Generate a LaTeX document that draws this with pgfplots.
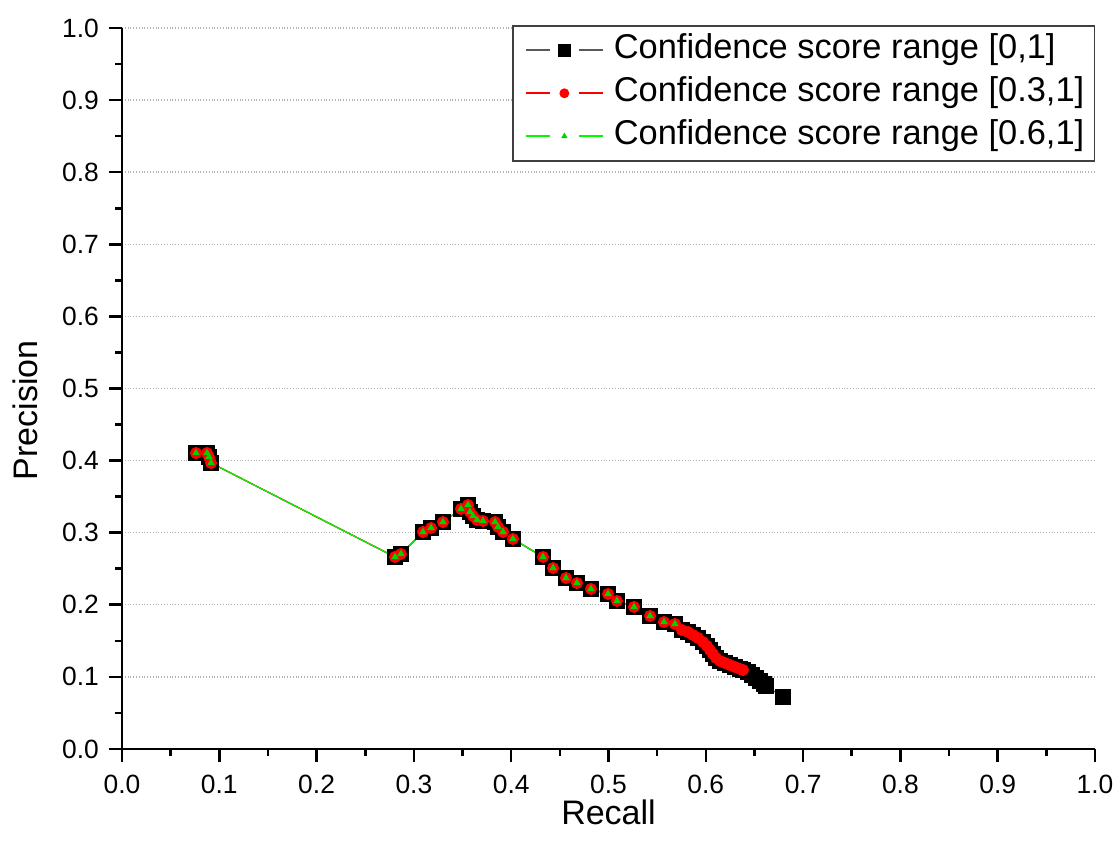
\documentclass[border=0pt]{standalone}
\usepackage{fontspec}
\setmainfont{Liberation Sans}
\usepackage{pgfplots}
\pgfplotsset{compat=1.18}

\definecolor{pgreen}{RGB}{0,250,0}
\definecolor{pred}{RGB}{255,0,0}

\begin{document}
\begin{tikzpicture}
\begin{axis}[
  name=ax,
  scale only axis,
  width=486.5pt, height=360.5pt,
  xmin=0, xmax=1, ymin=0, ymax=1,
  axis x line*=bottom, axis y line*=left,
  axis line style={line width=1.3pt, black},
  xtick={0,0.1,...,1.0}, ytick={0,0.1,...,1.0},
  minor tick num=1,
  tick align=outside,
  major tick length=6.5pt, minor tick length=3.5pt,
  every tick/.style={line width=1.3pt, black},
  /pgf/number format/assume math mode=true,
  /pgf/number format/.cd, fixed, fixed zerofill, precision=1, /pgfplots/.cd,
  tick label style={font=\fontsize{13.2}{15}\selectfont},
  xticklabel style={yshift=-3pt},
  yticklabel style={xshift=-1.5pt},
  ymajorgrids,
  grid style={densely dotted, black!30, line width=0.7pt},
  xlabel={Recall}, ylabel={Precision},
  label style={font=\fontsize{17}{20}\selectfont},
  xlabel style={at={(axis description cs:0.5,0)}, anchor=center, yshift=-31.5pt},
  ylabel style={at={(axis description cs:0,0.47)}, anchor=center, yshift=48.5pt},
  legend cell align=left,
  legend style={at={(1,1.004)}, anchor=north east,
    draw=black!75, line width=0.7pt,
    font=\fontsize{17.2}{20}\selectfont,
    nodes={text height=12.5pt, text depth=4pt, inner sep=2pt},
    row sep=1pt, inner xsep=3pt, inner ysep=2pt},
  legend image code/.code={
    \path[draw=none, fill=none] (-3.5pt,0pt) -- (42pt,0pt);
    \draw[#1, mark=none, line width=0.9pt] (0pt,0pt) -- (12pt,0pt);
    \draw[#1, mark=none, line width=0.9pt] (26.5pt,0pt) -- (38.5pt,0pt);
    \draw[#1, only marks, every mark/.append style={scale=0.8}]
      plot coordinates {(19.25pt,0pt)};
  },
]

% Confidence score range [0,1]
\addplot[black!65, line width=0.6pt, mark=square*, mark size=3.7pt,
  mark options={fill=black, draw=black, solid}] coordinates {
  (0.0761,0.4105) (0.0874,0.4105) (0.0894,0.4050) (0.0915,0.3967)
  (0.2806,0.2663) (0.2867,0.2705) (0.3094,0.3010) (0.3176,0.3065)
  (0.3299,0.3148) (0.3484,0.3329) (0.3556,0.3384) (0.3577,0.3287)
  (0.3607,0.3232) (0.3649,0.3176) (0.3710,0.3162) (0.3834,0.3148)
  (0.3864,0.3079) (0.3916,0.3010) (0.4018,0.2913) (0.4327,0.2663)
  (0.4430,0.2510) (0.4563,0.2372) (0.4676,0.2302) (0.4820,0.2219)
  (0.4995,0.2150) (0.5087,0.2053) (0.5262,0.1970) (0.5427,0.1845)
  (0.5570,0.1761) (0.5683,0.1734)
  (0.5755,0.1650) (0.5817,0.1623) (0.5868,0.1581) (0.5920,0.1540)
  (0.5971,0.1484) (0.6012,0.1429) (0.6043,0.1373) (0.6074,0.1318)
  (0.6105,0.1262) (0.6146,0.1221) (0.6197,0.1193) (0.6249,0.1165)
  (0.6300,0.1137) (0.6351,0.1110) (0.6382,0.1096)
  (0.6434,0.1068) (0.6475,0.1026) (0.6516,0.0985) (0.6557,0.0943)
  (0.6598,0.0902) (0.6619,0.0874) (0.6793,0.0721)
};
\addlegendentry{Confidence score range [0,1]}

% Confidence score range [0.3,1]
\addplot[pred, line width=0.6pt, mark=*, mark size=2.7pt,
  mark options={fill=pred, draw=pred, solid}] coordinates {
  (0.0761,0.4105) (0.0874,0.4105) (0.0894,0.4050) (0.0915,0.3967)
  (0.2806,0.2663) (0.2867,0.2705) (0.3094,0.3010) (0.3176,0.3065)
  (0.3299,0.3148) (0.3484,0.3329) (0.3556,0.3384) (0.3577,0.3287)
  (0.3607,0.3232) (0.3649,0.3176) (0.3710,0.3162) (0.3834,0.3148)
  (0.3864,0.3079) (0.3916,0.3010) (0.4018,0.2913) (0.4327,0.2663)
  (0.4430,0.2510) (0.4563,0.2372) (0.4676,0.2302) (0.4820,0.2219)
  (0.4995,0.2150) (0.5087,0.2053) (0.5262,0.1970) (0.5427,0.1845)
  (0.5570,0.1761) (0.5683,0.1734)
  (0.5755,0.1650) (0.5817,0.1623) (0.5868,0.1581) (0.5920,0.1540)
  (0.5971,0.1484) (0.6012,0.1429) (0.6043,0.1373) (0.6074,0.1318)
  (0.6105,0.1262) (0.6146,0.1221) (0.6197,0.1193) (0.6249,0.1165)
  (0.6300,0.1137) (0.6351,0.1110) (0.6382,0.1096)
};
\addlegendentry{Confidence score range [0.3,1]}

% Confidence score range [0.6,1]
\addplot[pgreen, line width=0.6pt, mark=triangle*, mark size=1.6pt,
  mark options={fill=pgreen!85!black, draw=pgreen!85!black, solid}] coordinates {
  (0.0761,0.4105) (0.0874,0.4105) (0.0894,0.4050) (0.0915,0.3967)
  (0.2806,0.2663) (0.2867,0.2705) (0.3094,0.3010) (0.3176,0.3065)
  (0.3299,0.3148) (0.3484,0.3329) (0.3556,0.3384) (0.3577,0.3287)
  (0.3607,0.3232) (0.3649,0.3176) (0.3710,0.3162) (0.3834,0.3148)
  (0.3864,0.3079) (0.3916,0.3010) (0.4018,0.2913) (0.4327,0.2663)
  (0.4430,0.2510) (0.4563,0.2372) (0.4676,0.2302) (0.4820,0.2219)
  (0.4995,0.2150) (0.5087,0.2053) (0.5262,0.1970) (0.5427,0.1845)
  (0.5570,0.1761) (0.5683,0.1734)
};
\addlegendentry{Confidence score range [0.6,1]}

\end{axis}
\pgfresetboundingbox
\path[use as bounding box] ([xshift=-61pt,yshift=-52.5pt]ax.south west)
  rectangle ([xshift=10pt,yshift=14pt]ax.north east);
\end{tikzpicture}
\end{document}
